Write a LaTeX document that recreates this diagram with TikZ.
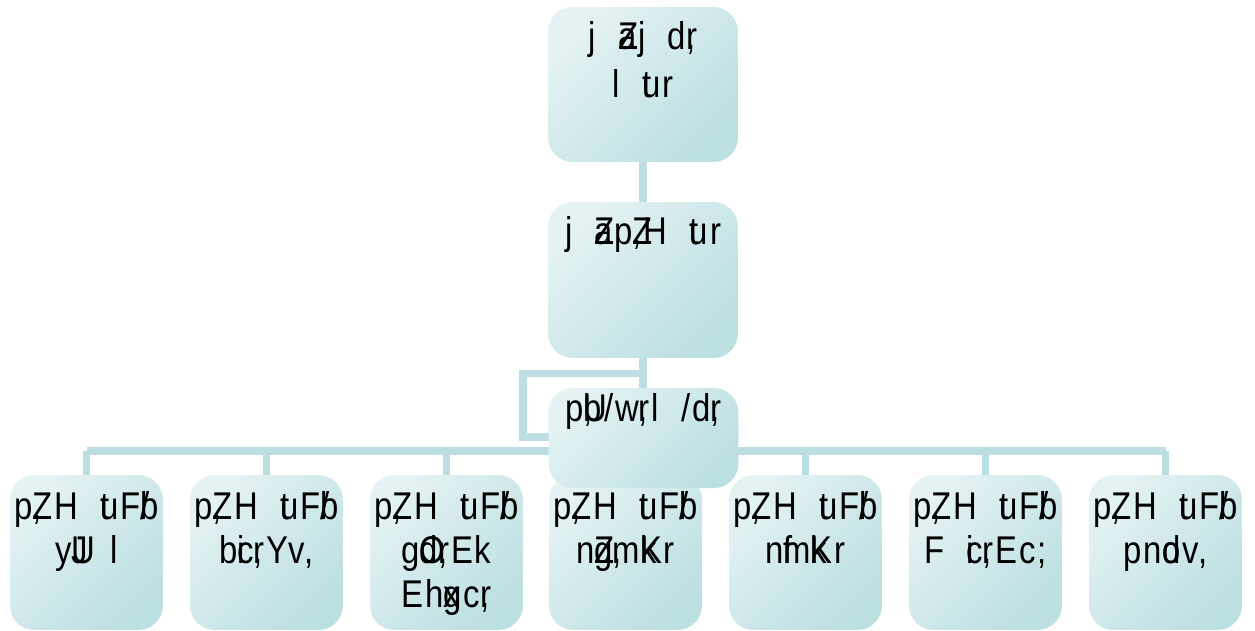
\documentclass[tikz,border=0pt]{standalone}
\usepackage{fontspec}
\setmainfont[FakeStretch=0.85, LetterSpace=5, WordSpace=2]{Liberation Sans}
\definecolor{boxlight}{HTML}{E4F2F3}
\definecolor{boxdark}{HTML}{BCDFE2}
\definecolor{linkblue}{HTML}{BCDEE2}
% overlaid glyph (zero width)
\newcommand{\ov}[1]{\rlap{#1}}
% text set at the top of a box: width, height, gap above, text
\newcommand{\toptext}[4]{\parbox[c][#2][t]{#1}{\centering\vspace*{#3}\strut #4}}
\newcommand{\unithead}{p\ov{,}ZH \ov{t}uF\ov{/}b}

\begin{document}
\begin{tikzpicture}
		[x=0.02cm, y=-0.02cm,
		every node/.style={font=\fontsize{22}{25}\selectfont, inner sep=0pt},
		orgbox/.style={rounded corners=14pt, top color=boxlight, bottom color=boxdark, shading angle=45},
		link/.style={draw=linkblue, line width=4pt},
		]
		\useasboundingbox (0,0) rectangle (1255,630);

		\coordinate (bus) at (643,451);
		\coordinate (elbow) at (523,437);

		\node[orgbox] (head) at (643,84.5) {\toptext{3.8cm}{3.1cm}{6.9pt}{j \ov{Z}aj d\ov{,}r\\[2pt] l \ov{t}ur}};
		\node[orgbox] (deputy) at (643,280) {\toptext{3.8cm}{3.12cm}{6.9pt}{j \ov{Z}ap\ov{Z},H \ov{t}ur}};

		% connectors
		\draw[link] (head.south) -- (deputy.north);
		\draw[link] (deputy.south) -- (deputy.south |- bus);
		\draw[link] (deputy.south) -- ++(0,15) -| (elbow) -- (elbow -| 560,0);

		% the units
		\foreach \i/\x/\t in {1/86.5/{y\ov{U}J l},
				2/266.5/{b\ov{i}c\ov{,}rYv,},
				3/446.5/{g\ov{O}d\ov{,}rEk\\ Eh\ov{x}gc\ov{,}r},
				4/625.5/{n\ov{Z}g\ov{,}m\ov{k}Kr},
				5/805.5/{n\ov{f}m\ov{k}Kr},
				6/985.5/{F \ov{i}c\ov{,}rEc;},
				7/1165.5/{pn\ov{o}dv,}}
			{
			\node[orgbox] (unit\i) at (\x,552.5) {\toptext{3.06cm}{3.1cm}{8pt}{\unithead\\ \t}};
			\draw[link] (unit\i.north) -- (unit\i.north |- bus);
			}
		\draw[link] (unit1.north |- bus) -- (unit7.north |- bus);

		\node[orgbox] (aide) at (643.5,438) {\toptext{3.8cm}{2.0cm}{1.8pt}{p\ov{,}\ov{U}b/w\ov{,}rl /d\ov{,}r}};
	\end{tikzpicture}
\end{document}
